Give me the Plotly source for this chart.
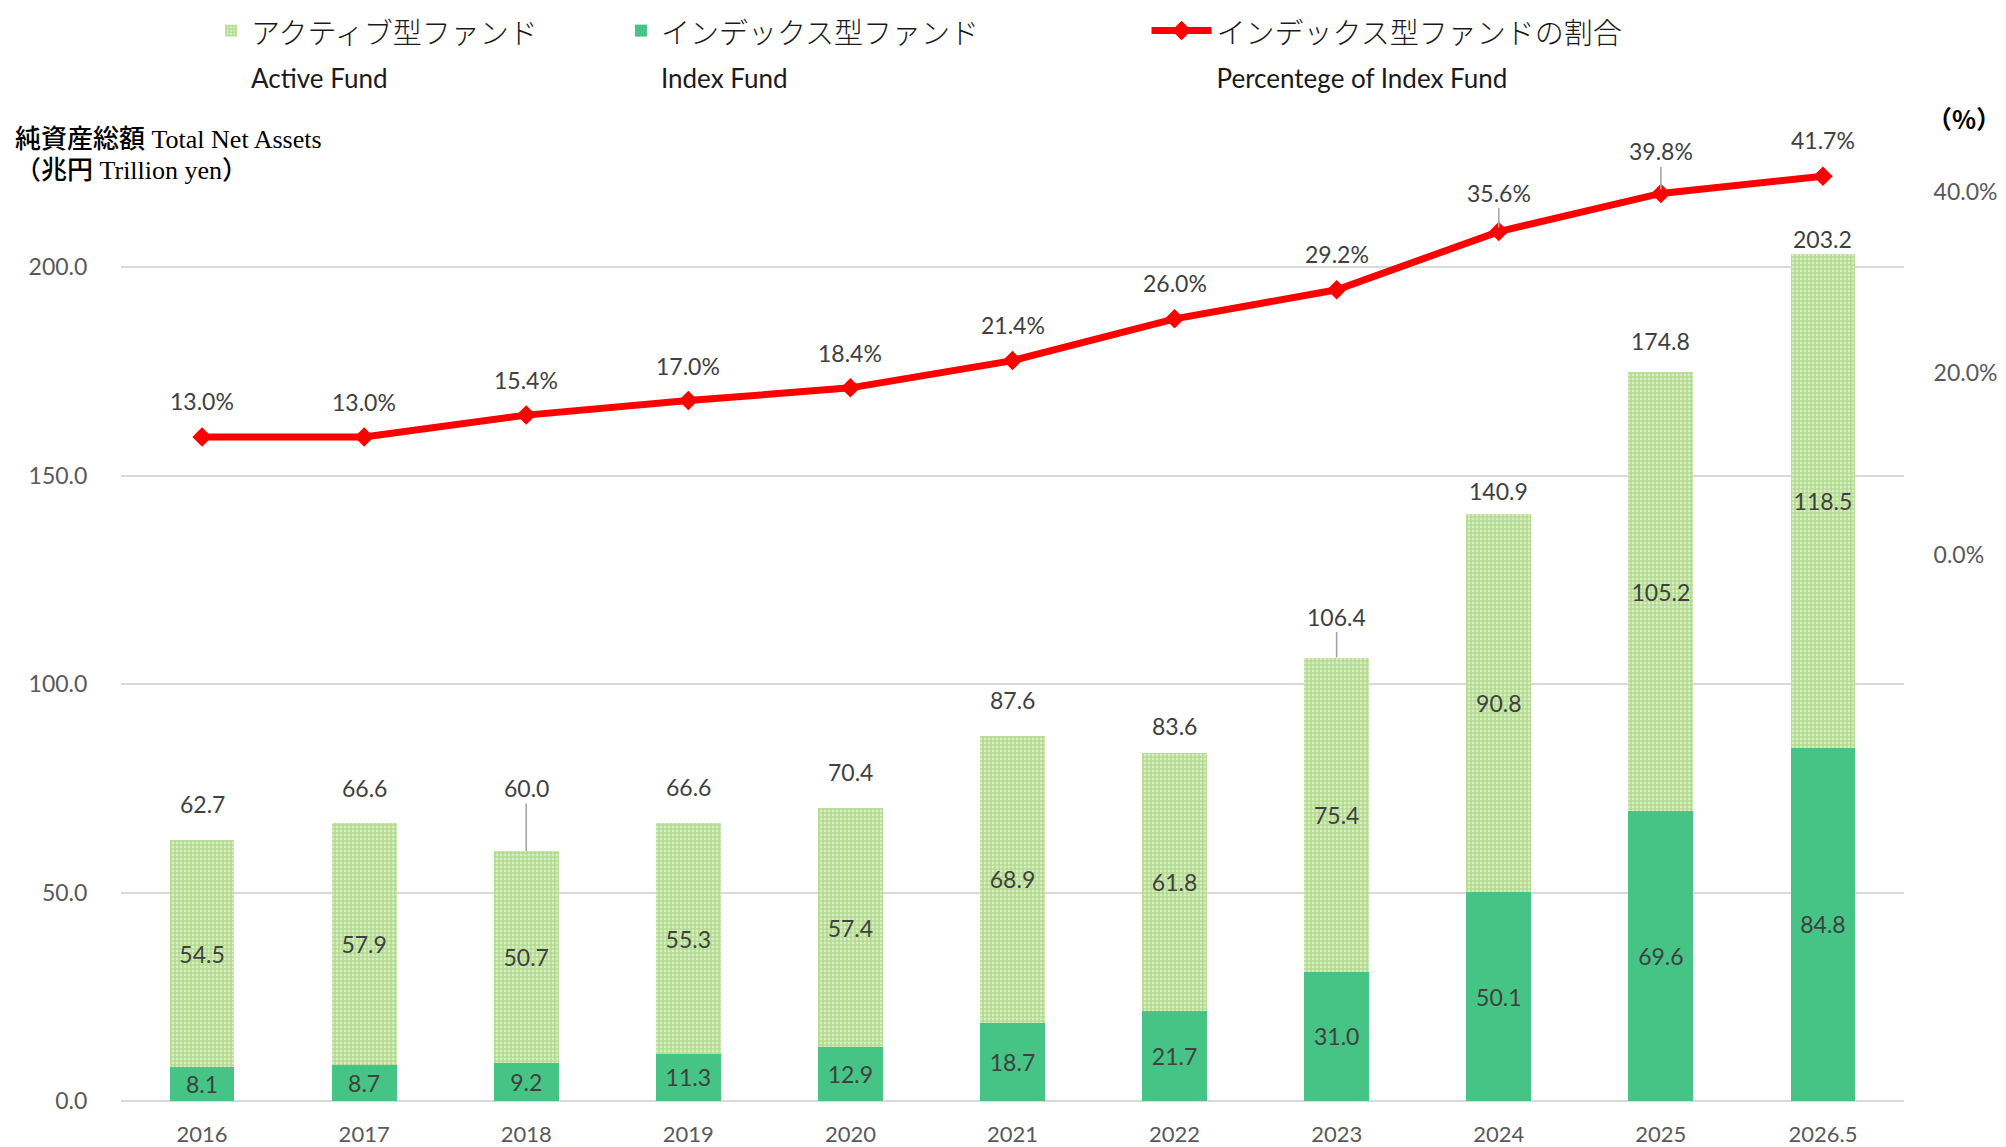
import plotly.graph_objects as go

# ---------------- data ----------------
years = ["2016", "2017", "2018", "2019", "2020", "2021", "2022", "2023", "2024", "2025", "2026.5"]
index_fund = [8.1, 8.7, 9.2, 11.3, 12.9, 18.7, 21.7, 31.0, 50.1, 69.6, 84.8]
active_fund = [54.5, 57.9, 50.7, 55.3, 57.4, 68.9, 61.8, 75.4, 90.8, 105.2, 118.5]
total_assets = [62.7, 66.6, 60.0, 66.6, 70.4, 87.6, 83.6, 106.4, 140.9, 174.8, 203.2]
index_share = [13.0, 13.0, 15.4, 17.0, 18.4, 21.4, 26.0, 29.2, 35.6, 39.8, 41.7]
left_ticks = [0, 50, 100, 150, 200]
right_ticks = [0, 20, 40]

# ---------------- styles ----------------
W, H = 1990, 1139          # page body has an 8px margin
LAT = "Lato, Carlito, 'Open Sans', sans-serif"
JP = "Noto Sans CJK JP"
LABEL_COL = "#404040"
TICK_COL = "#595959"
GRID_COL = "#d9d9d9"
INDEX_COL = "#45c486"
ACTIVE_FG = "#7cc140"
ACTIVE_BG = "#e8f4dc"
LINE_COL = "#ff0000"
LEADER_COL = "#a6a6a6"
LBL_SIZE = 23

# label offsets in pixels above the bar top / line point (style, not data)
total_offsets = [36, 35, 63, 36, 36, 36, 27, 41, 23, 31, 15]
total_leader = [False, False, True, False, False, False, False, True, False, False, False]
pct_offsets = [36, 35, 35, 35, 35, 36, 36, 36, 39, 42, 36]
pct_leader = [False, False, False, False, False, False, False, False, True, True, False]


def legend_name(jp, en):
    return (f"<span style='font-family:{JP};font-size:29px;font-weight:300'>{jp}</span>"
            f"<br><span style='font-family:Lato;font-size:26px'>{en}</span>")


fig = go.Figure()

fig.add_trace(go.Bar(
    x=years, y=index_fund, name=legend_name("インデックス型ファンド", "Index Fund"),
    marker=dict(color=INDEX_COL, line=dict(width=0)),
    text=[f"{v:.1f}" for v in index_fund], textposition="inside",
    insidetextanchor="middle", textangle=0,
    textfont=dict(family=LAT, size=LBL_SIZE, color=LABEL_COL),
    legend="legend2", hoverinfo="skip",
))

fig.add_trace(go.Bar(
    x=years, y=active_fund, name=legend_name("アクティブ型ファンド", "Active Fund"),
    marker=dict(color=ACTIVE_BG, line=dict(width=0),
                pattern=dict(shape=".", fgcolor=ACTIVE_FG, bgcolor=ACTIVE_BG,
                             size=4, solidity=0.72)),
    text=[f"{v:.1f}" for v in active_fund], textposition="inside",
    insidetextanchor="middle", textangle=0,
    textfont=dict(family=LAT, size=LBL_SIZE, color=LABEL_COL),
    legend="legend", hoverinfo="skip",
))

fig.add_trace(go.Scatter(
    x=years, y=index_share, yaxis="y2", mode="lines+markers",
    name=legend_name("インデックス型ファンドの割合", "Percentege of Index Fund"),
    line=dict(color=LINE_COL, width=7),
    marker=dict(symbol="diamond", size=15, color=LINE_COL),
    legend="legend3", hoverinfo="skip",
))

annotations = []
lbl_font = dict(family=LAT, size=LBL_SIZE, color=LABEL_COL)
leader = dict(arrowhead=0, arrowwidth=1.6, arrowcolor=LEADER_COL)
for i, tot in enumerate(total_assets):
    if total_leader[i]:
        annotations.append(dict(x=i, y=tot, xref="x", yref="y", text=f"{tot:.1f}",
                                showarrow=True, ax=0, ay=-total_offsets[i], standoff=0,
                                font=lbl_font, **leader))
    else:
        annotations.append(dict(x=i, y=tot, xref="x", yref="y", text=f"{tot:.1f}",
                                showarrow=False, yshift=total_offsets[i], font=lbl_font))
for i, p in enumerate(index_share):
    if pct_leader[i]:
        annotations.append(dict(x=i, y=p, xref="x", yref="y2", text=f"{p:.1f}%",
                                showarrow=True, ax=0, ay=-pct_offsets[i], standoff=4,
                                font=lbl_font, **leader))
    else:
        annotations.append(dict(x=i, y=p, xref="x", yref="y2", text=f"{p:.1f}%",
                                showarrow=False, yshift=pct_offsets[i], font=lbl_font))

# axis titles
annotations.append(dict(
    xref="paper", yref="paper", x=-0.0606, y=0.9386, xanchor="left", yanchor="top",
    align="left", showarrow=False,
    text=("<span style='font-size:26px'><span style='font-weight:500'>純資産総額</span>"
          " Total Net Assets</span><br>"
          "<span style='font-size:26px'><span style='font-weight:500'>（兆円</span>"
          " Trillion yen<span style='font-weight:500'>）</span></span>"),
    font=dict(family="Liberation Serif, Noto Sans CJK JP", size=24, color="#000000")))
annotations.append(dict(
    xref="paper", yref="paper", x=1.0556, y=0.9434, xanchor="right", yanchor="middle",
    showarrow=False, text="<b>（%）</b>",
    font=dict(family=JP, size=25, color="#000000")))

legend_common = dict(xref="paper", yref="paper", xanchor="left", yanchor="top",
                     orientation="v", valign="top", bgcolor="rgba(0,0,0,0)",
                     font=dict(size=34, color="#1a1a1a"), itemclick=False,
                     itemdoubleclick=False)
LEG_Y = 1.0547

fig.update_layout(
    width=W, height=H,
    margin=dict(l=113, r=94, t=51, b=45.5, pad=0, autoexpand=False),
    paper_bgcolor="white", plot_bgcolor="white",
    barmode="stack", bargap=0.6,
    uniformtext=dict(minsize=LBL_SIZE, mode="show"),
    showlegend=True,
    legend=dict(x=0.0505, y=LEG_Y, **legend_common),
    legend2=dict(x=0.2804, y=LEG_Y, **legend_common),
    legend3=dict(x=0.592 - 30 / 1783, y=LEG_Y, itemwidth=60, **legend_common),
    xaxis=dict(type="category", range=[-0.5, 10.5], showgrid=False, showline=False,
               zeroline=False, ticks="outside", ticklen=14, tickcolor="rgba(0,0,0,0)",
               tickangle=0, automargin=False,
               tickfont=dict(family=LAT, size=22, color=TICK_COL)),
    yaxis=dict(range=[0, 250], tickvals=left_ticks,
               ticktext=[f"{v:.1f}" for v in left_ticks],
               showgrid=True, gridcolor=GRID_COL, gridwidth=2,
               zeroline=True, zerolinecolor=GRID_COL, zerolinewidth=2,
               ticks="outside", ticklen=28, tickcolor="rgba(0,0,0,0)", automargin=False,
               tickfont=dict(family=LAT, size=23, color=TICK_COL)),
    yaxis2=dict(overlaying="y", side="right", range=[-60.1, 54.6], tickvals=right_ticks,
                ticktext=[f"{v:.1f}%" for v in right_ticks],
                showgrid=False, zeroline=False, showline=False, automargin=False,
                ticks="outside", ticklen=24, tickcolor="rgba(0,0,0,0)",
                tickfont=dict(family=LAT, size=23, color=TICK_COL)),
    annotations=annotations,
)

fig.write_html("out.html")
